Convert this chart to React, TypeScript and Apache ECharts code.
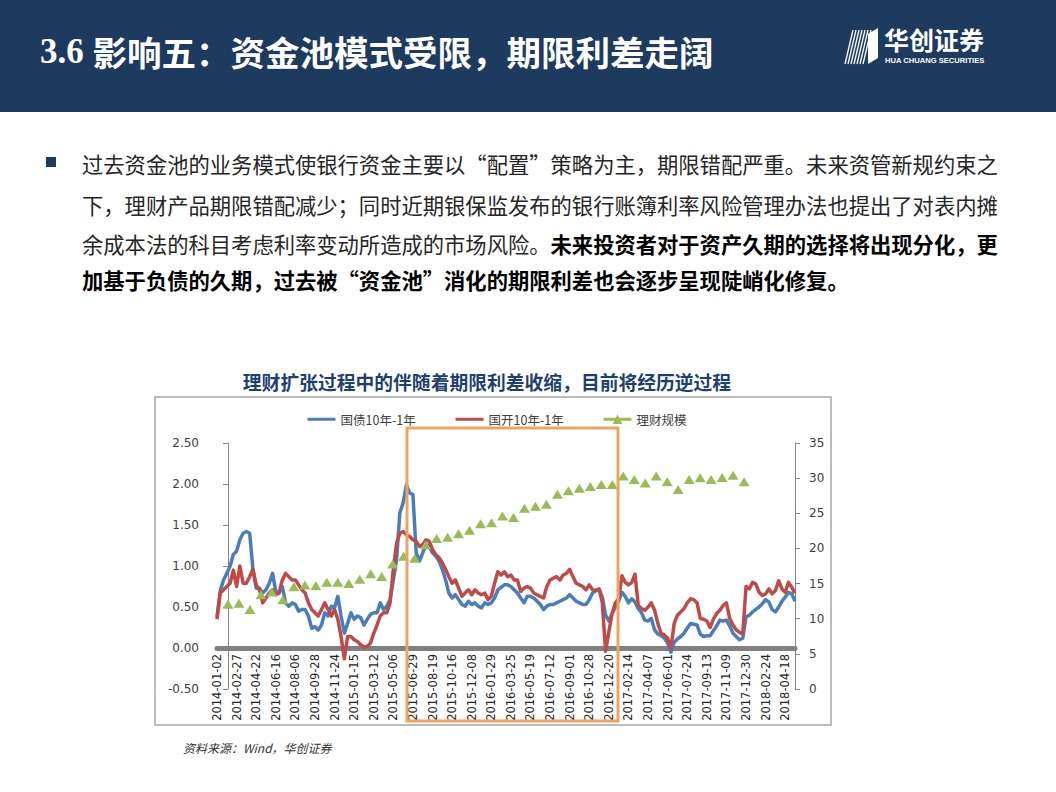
import React, { useEffect, useRef } from "react";
import * as echarts from "echarts";

// ---- data ----
const tickLabels = [
  "2014-01-02", "2014-02-27", "2014-04-22", "2014-06-16", "2014-08-06", "2014-09-28",
  "2014-11-24", "2015-01-15", "2015-03-12", "2015-05-06", "2015-06-29", "2015-08-19",
  "2015-10-16", "2015-12-08", "2016-01-29", "2016-03-25", "2016-05-19", "2016-07-12",
  "2016-09-01", "2016-10-28", "2016-12-20", "2017-02-14", "2017-04-07", "2017-06-01",
  "2017-07-24", "2017-09-13", "2017-11-09", "2017-12-30", "2018-02-24", "2018-04-18",
];
const POINTS_PER_TICK = 6;

// 国债10年-1年 (%), sampled ~6 points between tick labels
const govSpread = [
  0.38, 0.70, 0.83, 0.91, 1.00, 1.14,
  1.18, 1.32, 1.40, 1.42, 1.40, 0.96,
  0.73, 0.73, 0.67, 0.71, 0.79, 0.91,
  0.69, 0.67, 0.75, 0.55, 0.51, 0.55,
  0.53, 0.45, 0.47, 0.47, 0.39, 0.24,
  0.26, 0.22, 0.28, 0.43, 0.39, 0.51,
  0.49, 0.63, 0.39, 0.18, 0.30, 0.43,
  0.35, 0.39, 0.37, 0.28, 0.35, 0.41,
  0.43, 0.43, 0.55, 0.47, 0.51, 0.59,
  0.83, 1.08, 1.65, 1.77, 1.99, 1.89,
  1.87, 1.16, 1.06, 1.16, 1.26, 1.24,
  1.16, 1.12, 1.06, 0.96, 0.83, 0.67,
  0.61, 0.65, 0.59, 0.53, 0.51, 0.57,
  0.53, 0.55, 0.51, 0.49, 0.55, 0.53,
  0.55, 0.61, 0.71, 0.74, 0.77, 0.77,
  0.75, 0.71, 0.67, 0.61, 0.55, 0.63,
  0.63, 0.61, 0.57, 0.53, 0.47, 0.51,
  0.53, 0.53, 0.55, 0.57, 0.59, 0.61,
  0.65, 0.61, 0.57, 0.55, 0.53, 0.53,
  0.59, 0.67, 0.70, 0.72, 0.62, 0.40,
  0.33, 0.42, 0.50, 0.57, 0.68, 0.63,
  0.55, 0.60, 0.56, 0.48, 0.43, 0.34,
  0.33, 0.36, 0.22, 0.17, 0.15, 0.12,
  0.06, -0.05, 0.07, 0.11, 0.14, 0.18,
  0.24, 0.30, 0.29, 0.28, 0.17, 0.14,
  0.15, 0.15, 0.21, 0.27, 0.34, 0.33,
  0.34, 0.27, 0.18, 0.14, 0.10, 0.12,
  0.38, 0.40, 0.44, 0.47, 0.50, 0.54,
  0.59, 0.56, 0.47, 0.44, 0.50, 0.57,
  0.62, 0.68, 0.66, 0.57,
];

// 国开10年-1年 (%)
const cdbSpread = [
  0.35, 0.67, 0.71, 0.75, 0.79, 0.95,
  0.75, 1.00, 0.79, 0.79, 0.87, 0.96,
  0.77, 0.71, 0.55, 0.61, 0.67, 0.71,
  0.65, 0.67, 0.83, 0.91, 0.87, 0.83,
  0.83, 0.77, 0.71, 0.67, 0.55, 0.47,
  0.43, 0.39, 0.47, 0.55, 0.47, 0.39,
  0.47, 0.35, 0.14, -0.13, 0.14, 0.14,
  0.10, 0.08, 0.04, 0.01, 0.02, 0.06,
  0.18, 0.28, 0.39, 0.43, 0.43, 0.55,
  0.96, 1.28, 1.40, 1.42, 1.38, 1.36,
  1.32, 1.30, 1.24, 1.26, 1.32, 1.30,
  1.20, 1.14, 1.10, 1.04, 0.96, 0.87,
  0.79, 0.83, 0.73, 0.63, 0.67, 0.71,
  0.65, 0.71, 0.67, 0.65, 0.67, 0.59,
  0.63, 0.79, 0.93, 0.89, 0.93, 0.87,
  0.89, 0.83, 0.83, 0.69, 0.73, 0.75,
  0.73, 0.67, 0.65, 0.63, 0.61, 0.75,
  0.83, 0.85, 0.87, 0.83, 0.89, 0.91,
  0.96, 0.87, 0.79, 0.77, 0.75, 0.71,
  0.77, 0.71, 0.70, 0.72, 0.55, -0.04,
  0.20, 0.42, 0.55, 0.60, 0.88, 0.80,
  0.77, 0.80, 0.90, 0.52, 0.48, 0.46,
  0.50, 0.55, 0.46, 0.30, 0.18, 0.16,
  0.12, 0.00, 0.30, 0.40, 0.44, 0.48,
  0.55, 0.60, 0.59, 0.55, 0.36, 0.35,
  0.33, 0.25, 0.35, 0.42, 0.46, 0.52,
  0.55, 0.36, 0.28, 0.22, 0.19, 0.17,
  0.75, 0.72, 0.80, 0.78, 0.68, 0.64,
  0.66, 0.72, 0.66, 0.70, 0.82, 0.72,
  0.68, 0.80, 0.74, 0.67,
];

// 理财规模 (万亿), month-end, 2014-01 .. 2017-12
const wmSize = [
  12.05, 12.2, 11.3, 13.4, 13.8, 12.7, 14.55, 14.8, 14.7, 15.2, 15.2, 15.0,
  15.6, 16.4, 16.0, 17.8, 18.9, 18.6, 20.5, 21.4, 21.6, 22.1, 22.6, 23.5,
  23.65, 24.6, 24.4, 25.7, 26.0, 26.3, 27.7, 28.2, 28.55, 28.8, 29.1, 29.1,
  30.3, 29.8, 29.3, 30.3, 29.5, 28.4, 29.8, 30.05, 29.8, 30.1, 30.4, 29.5,
];
const MONTH_SPAN = [-1, 51.64];

const seriesNames = ["国债10年-1年", "国开10年-1年", "理财规模"];

const pageTitle = ["3.6 ", "影响五：资金池模式受限，期限利差走阔"];
const bodyLines = [
  [["n", "过去资金池的业务模式使银行资金主要以“配置”策略为主，期限错配严重。未来资管新规约束之"]],
  [["n", "下，理财产品期限错配减少；同时近期银保监发布的银行账簿利率风险管理办法也提出了对表内摊"]],
  [["n", "余成本法的科目考虑利率变动所造成的市场风险。"], ["b", "未来投资者对于资产久期的选择将出现分化，更"]],
  [["b", "加基于负债的久期，过去被“资金池”消化的期限利差也会逐步呈现陡峭化修复。"]],
];
const chartTitle = "理财扩张过程中的伴随着期限利差收缩，目前将经历逆过程";
const sourceText = "资料来源：Wind，华创证券";

const categories = govSpread.map((_, i) => {
  const t = tickLabels[Math.floor(i / POINTS_PER_TICK)];
  return i % POINTS_PER_TICK === 0 ? t : `${t}+${i % POINTS_PER_TICK}`;
});

const CJK = '"Noto Sans CJK SC", "Noto Sans", sans-serif';
const NAVY = "#1d3a5f";
const BLUE = "#4A7EBB";
const RED = "#BE4B48";
const GREEN = "#9BBB59";
const ORANGE = "#F1A35E";

function buildOption() {
  const bodyY = [163, 204, 243, 279];
  const bodyGraphics = bodyLines.map((parts, li) => ({
    type: "text",
    x: 82,
    y: bodyY[li],
    z: 5,
    style: {
      text: parts.map(([k, t]) => `{${k}|${t}}`).join(""),
      verticalAlign: "middle",
      rich: {
        n: { fontSize: 21.3, fontFamily: CJK, fontWeight: "normal", fill: "#262626" },
        b: { fontSize: 21.3, fontFamily: CJK, fontWeight: "bold", fill: "#000000" },
      },
    },
  }));

  const stripes = [0, 1, 2, 3, 4, 5, 6].map((k) => ({
    type: "line",
    z: 6,
    shape: { x1: 845 + 3 * k, y1: 64, x2: 853 + 3 * k, y2: 30 },
    style: { stroke: "#ffffff", lineWidth: 1.3 },
  }));

  const mkLegend = (name: string, left: number, extra: any) => ({
    left,
    top: 408,
    itemWidth: 28,
    itemHeight: 12,
    itemGap: 5,
    data: [{ name, ...extra }],
    textStyle: { fontSize: 12.5, color: "#404040", fontFamily: CJK },
  });

  const labelAxis = {
    fontSize: 11.5,
    color: "#262626",
    fontFamily: "DejaVu Sans",
  };

  return {
    animation: false,
    backgroundColor: "#ffffff",
    grid: [
      { left: 217, right: 261, top: 443, bottom: 103, containLabel: false },
      { left: 217, right: 261, top: 443, bottom: 144, containLabel: false },
    ],
    legend: [
      mkLegend(seriesNames[0], 301, { itemStyle: { opacity: 0 }, lineStyle: { width: 3 } }),
      mkLegend(seriesNames[1], 449, { itemStyle: { opacity: 0 }, lineStyle: { width: 3 } }),
      mkLegend(seriesNames[2], 597, {
        lineStyle: { opacity: 1, color: GREEN, width: 3 },
      }),
    ],
    xAxis: [
      {
        type: "category",
        gridIndex: 0,
        data: categories,
        boundaryGap: false,
        axisLine: { show: false },
        axisTick: { show: false },
        axisLabel: { show: false },
        splitLine: { show: false },
      },
      { type: "value", gridIndex: 0, min: MONTH_SPAN[0], max: MONTH_SPAN[1], show: false },
      {
        type: "category",
        gridIndex: 1,
        data: categories,
        boundaryGap: false,
        position: "bottom",
        axisLine: { show: true, onZero: false, lineStyle: { color: "#808080", width: 5 } },
        axisTick: { show: false },
        axisLabel: {
          ...labelAxis,
          interval: (i: number) => i % POINTS_PER_TICK === 0,
          rotate: 90,
          margin: 6,
          formatter: (v: string) => v.split("+")[0],
        },
        splitLine: { show: false },
      },
    ],
    yAxis: [
      {
        type: "value",
        gridIndex: 0,
        min: -0.5,
        max: 2.5,
        interval: 0.5,
        position: "left",
        axisLine: { show: true, lineStyle: { color: "#868686", width: 1 } },
        axisTick: { show: true, length: 5, lineStyle: { color: "#868686" } },
        axisLabel: {
          formatter: (v: number) => v.toFixed(2),
          fontSize: 12,
          color: "#404040",
          fontFamily: "DejaVu Sans",
          margin: 18,
        },
        splitLine: { show: false },
      },
      {
        type: "value",
        gridIndex: 0,
        min: 0,
        max: 35,
        interval: 5,
        position: "right",
        axisLine: { show: true, lineStyle: { color: "#868686", width: 1 } },
        axisTick: { show: true, length: 5, lineStyle: { color: "#868686" } },
        axisLabel: {
          fontSize: 12,
          color: "#404040",
          fontFamily: "DejaVu Sans",
          margin: 14,
        },
        splitLine: { show: false },
      },
      { type: "value", gridIndex: 1, min: 0, max: 1, show: false },
    ],
    series: [
      {
        name: seriesNames[0],
        type: "line",
        xAxisIndex: 0,
        yAxisIndex: 0,
        data: govSpread,
        symbol: "none",
        lineStyle: { color: BLUE, width: 3.5, join: "round" },
        itemStyle: { color: BLUE },
        z: 3,
      },
      {
        name: seriesNames[1],
        type: "line",
        xAxisIndex: 0,
        yAxisIndex: 0,
        data: cdbSpread,
        symbol: "none",
        lineStyle: { color: RED, width: 3.5, join: "round" },
        itemStyle: { color: RED },
        z: 4,
      },
      {
        name: seriesNames[2],
        type: "line",
        xAxisIndex: 1,
        yAxisIndex: 1,
        data: wmSize.map((v, k) => [k, v]),
        symbol: "triangle",
        symbolSize: [11, 9],
        showSymbol: true,
        lineStyle: { opacity: 0, width: 0 },
        itemStyle: { color: GREEN },
        z: 5,
      },
    ],
    graphic: [
      { type: "rect", z: 1, shape: { x: 0, y: 0, width: 1056, height: 112 }, style: { fill: NAVY } },
      {
        type: "text",
        x: 40,
        y: 51,
        z: 5,
        style: {
          text: `{a|${pageTitle[0]}}{b|${pageTitle[1]}}`,
          verticalAlign: "middle",
          rich: {
            a: { fontSize: 35, fontFamily: '"Liberation Serif", serif', fontWeight: "bold", fill: "#ffffff" },
            b: { fontSize: 34.5, fontFamily: CJK, fontWeight: "bold", fill: "#ffffff" },
          },
        },
      },
      ...stripes,
      {
        type: "polygon",
        z: 6,
        shape: { points: [[868, 34], [878, 28], [878, 58], [868, 64]] },
        style: { fill: "#ffffff" },
      },
      {
        type: "text",
        x: 884,
        y: 39,
        z: 6,
        style: { text: "华创证券", fontSize: 25, fontWeight: "bold", fontFamily: CJK, fill: "#ffffff", verticalAlign: "middle" },
      },
      {
        type: "text",
        x: 885,
        y: 60,
        z: 6,
        style: { text: "HUA CHUANG SECURITIES", fontSize: 7.6, fontWeight: "bold", fontFamily: '"Liberation Sans", sans-serif', fill: "#ffffff", verticalAlign: "middle" },
      },
      { type: "rect", z: 5, shape: { x: 46, y: 157, width: 10, height: 10 }, style: { fill: NAVY } },
      ...bodyGraphics,
      {
        type: "text",
        x: 487,
        y: 381,
        z: 5,
        style: { text: chartTitle, fontSize: 18.8, fontWeight: "bold", fontFamily: CJK, fill: "#1f3f73", align: "center", verticalAlign: "middle" },
      },
      {
        type: "rect",
        z: 0,
        shape: { x: 155, y: 397, width: 676, height: 328 },
        style: { fill: "none", stroke: "#a6a6a6", lineWidth: 1.5 },
      },
      {
        type: "rect",
        z: 100,
        shape: { x: 407, y: 428, width: 211, height: 293 },
        style: { fill: "none", stroke: ORANGE, lineWidth: 3 },
      },
      {
        type: "text",
        x: 183,
        y: 747,
        z: 5,
        style: { text: sourceText, fontSize: 12, fontStyle: "italic", fontFamily: CJK, fill: "#333333", verticalAlign: "middle" },
      },
    ],
  };
}

export default function App() {
  const ref = useRef<HTMLDivElement>(null);
  useEffect(() => {
    if (!ref.current) return;
    const chart = echarts.init(ref.current, undefined, { renderer: "svg" });
    chart.setOption(buildOption() as any);
    return () => chart.dispose();
  }, []);
  return (
    <div
      ref={ref}
      style={{ position: "fixed", left: 0, top: 0, width: 1056, height: 792, background: "#ffffff" }}
    />
  );
}
